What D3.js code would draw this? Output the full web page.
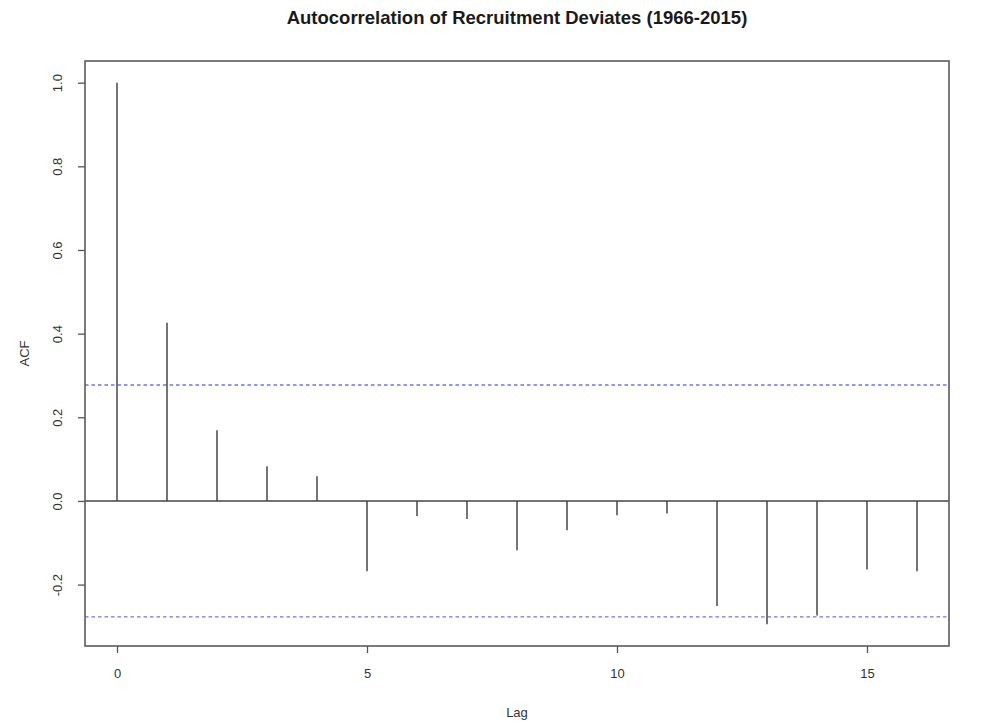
<!DOCTYPE html>
<html>
<head>
<meta charset="utf-8">
<script src="https://cdn.jsdelivr.net/npm/d3@7"></script>
<style>
  html, body { margin: 0; padding: 0; background: #fff; }
  svg { display: block; font-family: "Liberation Sans", Arial, sans-serif; }
</style>
</head>
<body>
<svg id="chart" width="997" height="726"></svg>
<script>
// Sample autocorrelation of recruitment deviates, lags 0..16
const lags = [0, 1, 2, 3, 4, 5, 6, 7, 8, 9, 10, 11, 12, 13, 14, 15, 16];
const acfValues = [1.000, 0.426, 0.169, 0.083, 0.059, -0.168, -0.036, -0.043,
                   -0.118, -0.070, -0.034, -0.030, -0.251, -0.295, -0.274, -0.164, -0.168];
// Approximate 95% significance bound, 1.96 / sqrt(n) with n = 50 years
const ciBound = 0.2772;
const xTicks = [0, 5, 10, 15];
const yTicks = [-0.2, 0.0, 0.2, 0.4, 0.6, 0.8, 1.0];
const titleText = "Autocorrelation of Recruitment Deviates (1966-2015)";
const xLabel = "Lag";
const yLabel = "ACF";

const svg = d3.select("#chart");
const plot = { left: 85, right: 949, top: 61, bottom: 646 };

// Axis ranges padded by 4% on each side, as in base R graphics
function padded(lo, hi) {
  const e = (hi - lo) * 0.04;
  return [lo - e, hi + e];
}
const xDom = padded(d3.min(lags), d3.max(lags));
const yDom = padded(Math.min(d3.min(acfValues), -ciBound), Math.max(d3.max(acfValues), ciBound));

const x = d3.scaleLinear().domain(xDom).range([plot.left, plot.right]);
const y = d3.scaleLinear().domain(yDom).range([plot.bottom, plot.top]);

// Title
svg.append("text")
  .attr("x", (plot.left + plot.right) / 2)
  .attr("y", 24)
  .attr("text-anchor", "middle")
  .attr("font-weight", "bold")
  .attr("font-size", 18.5)
  .attr("fill", "#1a1a1a")
  .text(titleText);

// Zero line
svg.append("line")
  .attr("x1", plot.left).attr("x2", plot.right)
  .attr("y1", y(0)).attr("y2", y(0))
  .attr("stroke", "#444").attr("stroke-width", 1.4);

// Confidence bounds
svg.selectAll("line.ci")
  .data([ciBound, -ciBound])
  .join("line")
  .attr("class", "ci")
  .attr("x1", plot.left).attr("x2", plot.right)
  .attr("y1", d => y(d)).attr("y2", d => y(d))
  .attr("stroke", "#5a5af0")
  .attr("stroke-width", 1.3)
  .attr("stroke-dasharray", "3.5,3")
  .attr("opacity", 0.85);

// ACF spikes
svg.selectAll("line.spike")
  .data(lags.map((l, i) => ({ lag: l, v: acfValues[i] })))
  .join("line")
  .attr("class", "spike")
  .attr("x1", d => x(d.lag)).attr("x2", d => x(d.lag))
  .attr("y1", y(0)).attr("y2", d => y(d.v))
  .attr("stroke", "#3a3a3a")
  .attr("stroke-width", 1.4);

// Plot box
svg.append("rect")
  .attr("x", plot.left).attr("y", plot.top)
  .attr("width", plot.right - plot.left)
  .attr("height", plot.bottom - plot.top)
  .attr("fill", "none")
  .attr("stroke", "#5a5a5a")
  .attr("stroke-width", 1.6);

// X axis
const xAxis = svg.append("g")
  .attr("transform", `translate(0,${plot.bottom})`)
  .call(d3.axisBottom(x).tickValues(xTicks).tickSize(7).tickPadding(16).tickFormat(d => String(d)));
xAxis.select(".domain").remove();
xAxis.selectAll(".tick line").attr("stroke", "#555").attr("stroke-width", 1.3);
xAxis.selectAll(".tick text")
  .attr("font-size", 13)
  .attr("fill", "#333")
  .attr("font-family", "'Liberation Sans', Arial, sans-serif");

// Y axis with rotated labels (plain hyphen for negatives)
const yAxis = svg.append("g")
  .attr("transform", `translate(${plot.left},0)`)
  .call(d3.axisLeft(y).tickValues(yTicks).tickSize(7).tickFormat(d => d.toFixed(1)));
yAxis.select(".domain").remove();
yAxis.selectAll(".tick line").attr("stroke", "#555").attr("stroke-width", 1.3);
yAxis.selectAll(".tick text")
  .attr("x", null).attr("dy", null)
  .attr("text-anchor", "middle")
  .attr("transform", "translate(-28,0) rotate(-90)")
  .attr("dy", "0.35em")
  .attr("font-size", 13)
  .attr("fill", "#333")
  .attr("font-family", "'Liberation Sans', Arial, sans-serif");

// Axis titles
svg.append("text")
  .attr("x", (plot.left + plot.right) / 2)
  .attr("y", 717)
  .attr("text-anchor", "middle")
  .attr("font-size", 13)
  .attr("fill", "#333")
  .text(xLabel);

svg.append("text")
  .attr("transform", `translate(24,${(plot.top + plot.bottom) / 2}) rotate(-90)`)
  .attr("text-anchor", "middle")
  .attr("dy", "0.35em")
  .attr("font-size", 13)
  .attr("fill", "#333")
  .text(yLabel);
</script>
</body>
</html>
